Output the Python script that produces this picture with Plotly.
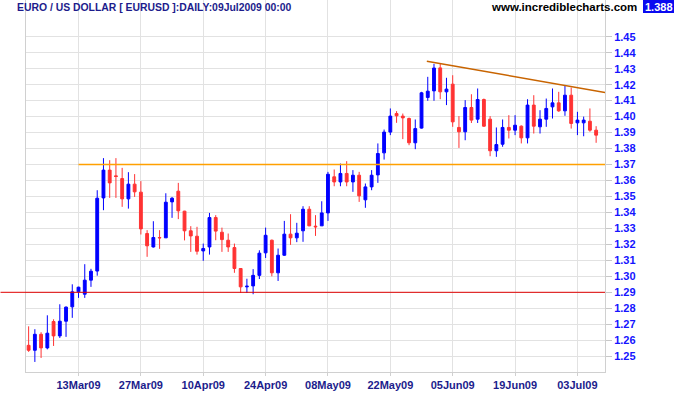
import plotly.graph_objects as go

# ---- data (EUR/USD daily, 3 Mar 2009 - 8 Jul 2009) ----
opens = [1.2568, 1.2537, 1.2637, 1.2552, 1.2717, 1.2627, 1.2719, 1.2809, 1.2903, 1.2888,
         1.2976, 1.3033, 1.3491, 1.3665, 1.3629, 1.3612, 1.3485, 1.3577, 1.3527, 1.3268,
         1.3184, 1.3243, 1.3241, 1.3466, 1.3533, 1.3408, 1.3285, 1.3251, 1.3159, 1.3184,
         1.3368, 1.3276, 1.3226, 1.3180, 1.3049, 1.2934, 1.2940, 1.3006, 1.3147, 1.3226,
         1.3022, 1.3132, 1.3264, 1.3241, 1.3285, 1.3420, 1.3314, 1.3316, 1.3397, 1.3623,
         1.3591, 1.3644, 1.3591, 1.3633, 1.3479, 1.3560, 1.3635, 1.3773, 1.3903, 1.4019,
         1.4003, 1.3988, 1.3836, 1.3928, 1.4120, 1.4161, 1.4305, 1.4155, 1.4203, 1.3932,
         1.3905, 1.4057, 1.3984, 1.4107, 1.3984, 1.3786, 1.3827, 1.3932, 1.3915, 1.3940,
         1.3867, 1.4072, 1.3936, 1.3984, 1.4061, 1.4086, 1.4036, 1.4134, 1.3961, 1.3961,
         1.3971, 1.3915]
highs = [1.2687, 1.2669, 1.2650, 1.2756, 1.2731, 1.2825, 1.2812, 1.2950, 1.2935, 1.3076,
         1.3047, 1.3539, 1.3740, 1.3727, 1.3740, 1.3679, 1.3652, 1.3640, 1.3596, 1.3289,
         1.3345, 1.3289, 1.3520, 1.3497, 1.3585, 1.3410, 1.3314, 1.3310, 1.3205, 1.3397,
         1.3383, 1.3305, 1.3268, 1.3205, 1.3050, 1.2985, 1.3045, 1.3163, 1.3305, 1.3230,
         1.3174, 1.3347, 1.3389, 1.3335, 1.3439, 1.3439, 1.3383, 1.3470, 1.3654, 1.3669,
         1.3706, 1.3721, 1.3665, 1.3654, 1.3581, 1.3665, 1.3832, 1.3919, 1.4051, 1.4034,
         1.4019, 1.3994, 1.3982, 1.4155, 1.4249, 1.4330, 1.4333, 1.4243, 1.4259, 1.4003,
         1.4103, 1.4140, 1.4176, 1.4113, 1.4003, 1.3932, 1.3982, 1.4009, 1.4009, 1.3945,
         1.4109, 1.4134, 1.4040, 1.4113, 1.4176, 1.4155, 1.4197, 1.4182, 1.4030, 1.4000,
         1.4051, 1.3940]
lows = [1.2527, 1.2464, 1.2489, 1.2543, 1.2564, 1.2614, 1.2621, 1.2740, 1.2865, 1.2865,
        1.2934, 1.3004, 1.3414, 1.3491, 1.3491, 1.3435, 1.3424, 1.3497, 1.3262, 1.3122,
        1.3180, 1.3172, 1.3241, 1.3366, 1.3358, 1.3225, 1.3153, 1.3136, 1.3097, 1.3136,
        1.3226, 1.3153, 1.3153, 1.3022, 1.2896, 1.2896, 1.2888, 1.2983, 1.3115, 1.3000,
        1.2971, 1.3128, 1.3197, 1.3214, 1.3216, 1.3314, 1.3253, 1.3316, 1.3347, 1.3564,
        1.3564, 1.3564, 1.3529, 1.3466, 1.3429, 1.3539, 1.3585, 1.3731, 1.3884, 1.3961,
        1.3859, 1.3821, 1.3796, 1.3925, 1.4099, 1.4099, 1.4109, 1.4072, 1.3936, 1.3804,
        1.3852, 1.3960, 1.3960, 1.3936, 1.3752, 1.3748, 1.3811, 1.3863, 1.3884, 1.3832,
        1.3832, 1.3894, 1.3894, 1.3936, 1.3988, 1.4030, 1.4005, 1.3925, 1.3884, 1.3877,
        1.3905, 1.3836]
closes = [1.2537, 1.2637, 1.2552, 1.2644, 1.2627, 1.2719, 1.2807, 1.2903, 1.2932, 1.2976,
          1.3032, 1.3489, 1.3665, 1.3585, 1.3625, 1.3485, 1.3577, 1.3529, 1.3297, 1.3191,
          1.3243, 1.3241, 1.3464, 1.3489, 1.3410, 1.3285, 1.3253, 1.3157, 1.3174, 1.3368,
          1.3283, 1.3230, 1.3184, 1.3049, 1.2934, 1.2938, 1.3006, 1.3145, 1.3257, 1.3022,
          1.3132, 1.3264, 1.3241, 1.3270, 1.3420, 1.3316, 1.3310, 1.3397, 1.3639, 1.3591,
          1.3644, 1.3591, 1.3633, 1.3504, 1.3560, 1.3633, 1.3769, 1.3903, 1.4003, 1.4005,
          1.3992, 1.3836, 1.3925, 1.4149, 1.4159, 1.4304, 1.4155, 1.4172, 1.3967, 1.3905,
          1.4057, 1.3978, 1.4107, 1.3940, 1.3786, 1.3825, 1.3932, 1.3915, 1.3946, 1.3867,
          1.4072, 1.3940, 1.3984, 1.4051, 1.4086, 1.4036, 1.4134, 1.3957, 1.3978, 1.3978,
          1.3915, 1.3884]

tick_positions = [8, 18, 28, 38, 48, 58, 68, 78, 88]
tick_labels = ["13Mar09", "27Mar09", "10Apr09", "24Apr09", "08May09",
               "22May09", "05Jun09", "19Jun09", "03Jul09"]
price_ticks = [1.25, 1.26, 1.27, 1.28, 1.29, 1.30, 1.31, 1.32, 1.33, 1.34, 1.35,
               1.36, 1.37, 1.38, 1.39, 1.40, 1.41, 1.42, 1.43, 1.44, 1.45]
price_tick_text = ["%.2f" % v for v in price_ticks]

support_level = 1.29
resistance_level = 1.37
resistance_start = 8
trend_x = [63.85, 92.42]
trend_y = [1.4347, 1.4151]
last_price = "1.388"

x = list(range(len(opens)))

BLUE = "#0000FF"
RED = "#FF3333"
NAVY = "#1C1C8C"
FONT = "Liberation Sans, Arial, sans-serif"

fig = go.Figure()
fig.add_trace(go.Candlestick(
    x=x, open=opens, high=highs, low=lows, close=closes,
    increasing=dict(line=dict(color=BLUE, width=1), fillcolor=BLUE),
    decreasing=dict(line=dict(color=RED, width=1), fillcolor=RED),
    whiskerwidth=0, showlegend=False, hoverinfo="skip",
))

# horizontal support (extends left of the axis) and resistance lines
fig.add_shape(type="line", xref="paper", yref="y", x0=-0.044, x1=1.0,
              y0=support_level, y1=support_level,
              line=dict(color="#E00000", width=1))
fig.add_shape(type="line", xref="x", yref="y", x0=resistance_start, x1=92.42,
              y0=resistance_level, y1=resistance_level,
              line=dict(color="#FFA000", width=1.5))
fig.add_shape(type="line", xref="x", yref="y", x0=trend_x[0], x1=trend_x[1],
              y0=trend_y[0], y1=trend_y[1],
              line=dict(color="#C86400", width=1.5))

W, H = 675, 395
L, R, T, B = 26, 70, 0, 23
pw, ph = W - L - R, H - T - B

def px(xp):
    return (xp - L) / pw

def py(yp):
    return (H - B - yp) / ph

fig.add_annotation(x=px(15), y=py(7.8), xref="paper", yref="paper",
                   text="EURO / US DOLLAR [ EURUSD ]:DAILY:09Jul2009 00:00",
                   showarrow=False, xanchor="left", yanchor="middle",
                   font=dict(family=FONT, size=10.4, color=NAVY, weight="bold"))
fig.add_annotation(x=px(639), y=py(7.5), xref="paper", yref="paper",
                   text="www.incrediblecharts.com",
                   showarrow=False, xanchor="right", yanchor="middle",
                   font=dict(family=FONT, size=11.5, color="#000000", weight="bold"))
fig.add_shape(type="rect", xref="paper", yref="paper",
              x0=px(643), x1=px(674), y0=py(13), y1=py(0),
              fillcolor="#0A0AF0", line=dict(width=0), layer="above")
fig.add_annotation(x=px(658.5), y=py(6.8), xref="paper", yref="paper",
                   text=last_price, showarrow=False, xanchor="center", yanchor="middle",
                   font=dict(family=FONT, size=11, color="#FFFFFF", weight="bold"))

fig.update_layout(
    width=W, height=H,
    margin=dict(l=L, r=R, t=T, b=B, pad=0),
    paper_bgcolor="white", plot_bgcolor="white",
    boxgap=0.35,
    showlegend=False,
    xaxis=dict(range=[-0.42, 92.42], rangeslider=dict(visible=False),
               tickmode="array", tickvals=tick_positions, ticktext=tick_labels,
               showgrid=True, gridcolor="#E2E2E2", gridwidth=1,
               showline=True, linecolor="#D0D0D0", linewidth=1, mirror=True,
               ticks="outside", ticklen=3, tickcolor="#D0D0D0",
               tickfont=dict(family=FONT, size=11, color=NAVY, weight="bold"),
               zeroline=False, fixedrange=True),
    yaxis=dict(range=[1.2401, 1.4730], side="right",
               tickmode="array", tickvals=price_ticks, ticktext=price_tick_text,
               showgrid=True, gridcolor="#E2E2E2", gridwidth=1,
               showline=True, linecolor="#D0D0D0", linewidth=1, mirror=True,
               ticks="outside", ticklen=6, tickcolor="#C8C8C8",
               tickfont=dict(family=FONT, size=11, color="#1414FF", weight="bold"),
               zeroline=False, fixedrange=True),
)

fig.write_html("out.html", config={"displayModeBar": False},
               post_script="document.body.style.margin='0px';")
